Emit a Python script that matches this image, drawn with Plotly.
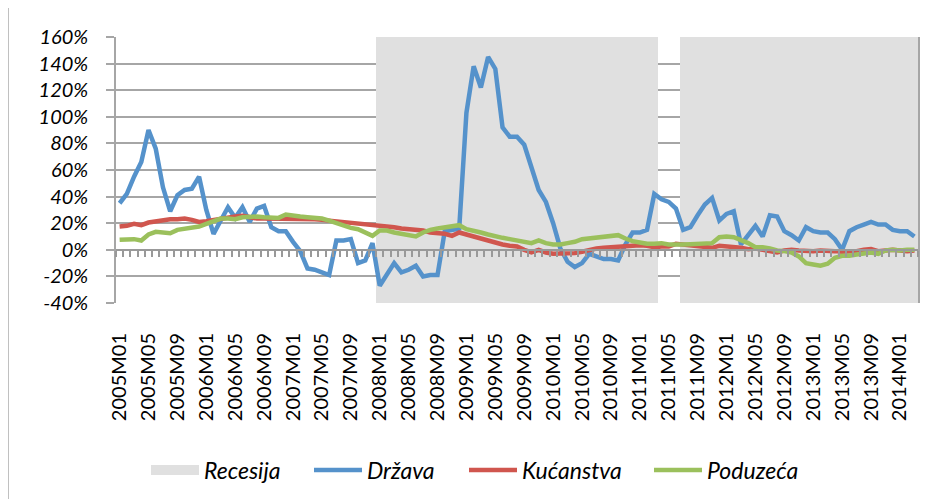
import plotly.graph_objects as go

# ---- data ----
months = [f"{y}M{m:02d}" for y in range(2005, 2015) for m in range(1, 13)][:111]  # 2005M01 .. 2014M03

recesija = [0]*36 + [1]*39 + [0]*3 + [1]*33

drzava = [35, 42, 55, 66, 90, 76, 47, 29, 41, 45, 46, 55, 30, 12, 22, 32, 24, 32, 21, 31,
          33, 17, 14, 14, 6, -1, -14, -15, -17, -19, 7, 7, 8, -10, -8, 5, -27, -19, -10, -17,
          -15, -12, -20, -19, -19, 14, 15, 16, 103, 138, 122, 145, 136, 92, 85, 85, 79, 62, 45, 36,
          20, 1, -9, -13, -10, -3, -5, -7, -7, -8, 4, 13, 13, 15, 42, 38, 36, 31, 15, 17,
          26, 34, 39, 22, 27, 29, 4, 11, 18, 10, 26, 25, 14, 11, 7, 17, 14, 13, 13, 8,
          0, 14, 17, 19, 21, 19, 19, 15, 14, 14, 10]

kucanstva = [17.5, 18, 19.5, 18.5, 20.5, 21.5, 22, 23, 23, 23.5, 22.5, 21, 21.5, 22.5, 23, 24, 25, 25.5, 24.5, 23.5,
             23.5, 23.5, 23.5, 23.5, 23.5, 23.5, 23, 23, 22.5, 22, 21.5, 21, 20.5, 20, 19.5, 19, 18.5, 18, 17, 16,
             15.5, 15, 14.5, 13, 12.5, 12, 10.5, 13, 11.5, 10, 8.5, 7, 5, 4, 3, 2.5, 0, -2, 0, -2,
             -3, -3, -3, -2.5, -1.5, 0, 1, 1.5, 2, 2.5, 3, 3.5, 3.5, 3, 2, 2.5, 2.5, 4.5, 4, 3.5,
             3, 2.5, 1.5, 3, 2.5, 2.5, 1.5, 0.5, 1, 0, -1, -2, -0.5, 0, -0.5, -1, -1, -0.5, -0.5, -1,
             -1.5, -1.5, -1, 0, 0.5, -1, -0.5, 0, -0.5, -1, -0.5]

poduzeca = [7.5, 8, 8, 7, 11.5, 13.5, 13, 12.5, 15, 16, 16.5, 17.5, 19.5, 21.5, 23.5, 23.5, 23, 24.5, 25, 25,
            24.5, 24, 24, 26.5, 25.5, 25, 24.5, 24, 23.5, 22, 20, 18, 16.5, 15.5, 13, 10.5, 14.5, 14.5, 13, 12,
            11, 10, 13, 15, 16, 17, 18, 18.5, 15.5, 14.5, 13, 11.5, 10, 9, 8, 7, 6, 5, 7, 5,
            4, 4, 5, 6, 8, 8.5, 9.5, 10, 10.5, 11, 8.5, 6.5, 5.5, 4.5, 4.5, 5, 4, 3.75, 4, 4.25,
            4.5, 5, 5, 9.5, 10, 9.5, 7.5, 5, 2, 2, 1, -0.5, -1, -2, -5, -10, -11, -12, -10.5, -6,
            -4.5, -4.5, -3.5, -2.5, -2, -3, -0.5, 0, -0.5, 0, 0]

y_tickvals = [-40, -20, 0, 20, 40, 60, 80, 100, 120, 140, 160]
y_ticktext = ["-40%", "-20%", "0%", "20%", "40%", "60%", "80%", "100%", "120%", "140%", "160%"]

# ---- styling ----
Y_MIN, Y_MAX = -40, 160
FONT = "Lato"
GRID = "#a6a6a6"
idx = list(range(len(months)))
label_idx = idx[::4]
label_txt = months[::4]
n = len(months)

fig = go.Figure()

fig.add_trace(go.Bar(
    x=idx, y=[(Y_MAX - Y_MIN) * r for r in recesija], base=Y_MIN, width=1,
    marker=dict(color="#e0e0e0", line=dict(width=0)),
    name="Recesija", showlegend=False, hoverinfo="skip"))
# legend entry for the recession band
fig.add_trace(go.Scatter(x=[None], y=[None], mode="lines", name="Recesija",
                         line=dict(color="#e0e0e0", width=12), legend="legend"))

fig.add_trace(go.Scatter(x=idx, y=drzava, mode="lines", name="Država",
                         line=dict(color="#5592cb", width=4.5), legend="legend2"))
fig.add_trace(go.Scatter(x=idx, y=kucanstva, mode="lines", name="Kućanstva",
                         line=dict(color="#d0564e", width=4.5), legend="legend3"))
fig.add_trace(go.Scatter(x=idx, y=poduzeca, mode="lines", name="Poduzeća",
                         line=dict(color="#9bc05c", width=4.5), legend="legend4"))
# dummy trace so the zero-level category axis is drawn
fig.add_trace(go.Scatter(x=[None], y=[None], xaxis="x2", showlegend=False, hoverinfo="skip"))

leg_font = dict(family=FONT, size=23, color="black", style="italic")
def leg(px):
    return dict(orientation="h", x=(px - 116) / 802, xanchor="left",
                y=(303 - 470) / 266, yanchor="middle", font=leg_font,
                bgcolor="rgba(0,0,0,0)", itemwidth=48)

fig.update_layout(
    width=929, height=499,
    margin=dict(l=108, r=19, t=29, b=204, autoexpand=False),
    paper_bgcolor="white", plot_bgcolor="white",
    bargap=0,
    font=dict(family=FONT, size=20, color="black"),
    xaxis=dict(range=[-0.5, n - 0.5], tickvals=label_idx, ticktext=label_txt,
               tickangle=-90, showgrid=False, zeroline=False, showline=False,
               ticks="", ticklabelstandoff=25, automargin=False,
               tickfont=dict(family=FONT, size=20, color="black")),
    xaxis2=dict(range=[-0.5, n - 0.5], overlaying="x", anchor="free",
                position=(0 - Y_MIN) / (Y_MAX - Y_MIN),
                showline=True, linecolor="#999999", linewidth=1.5,
                ticks="outside", ticklen=6, tickwidth=1.5, tickcolor="#999999",
                tick0=-0.5, dtick=1, showticklabels=False, showgrid=False, zeroline=False),
    yaxis=dict(range=[Y_MIN, Y_MAX], tickvals=y_tickvals, ticktext=y_ticktext,
               showgrid=True, gridcolor=GRID, gridwidth=1.5, zeroline=False,
               showline=True, linecolor=GRID, linewidth=1.5, mirror=True,
               ticks="outside", ticklen=8, tickwidth=1.5, tickcolor=GRID,
               ticklabelstandoff=14, automargin=False,
               tickfont=dict(family=FONT, size=20, color="black", style="italic")),
    legend=leg(146), legend2=leg(309), legend3=leg(464), legend4=leg(649),
    showlegend=True,
    shapes=[dict(type="line", xref="paper", yref="paper",
                 x0=-108 / 802, x1=-108 / 802, y0=303 / 266, y1=(303 - 499) / 266,
                 line=dict(color="#c0c0c0", width=2), layer="above")],
)

fig.write_html("out.html")
